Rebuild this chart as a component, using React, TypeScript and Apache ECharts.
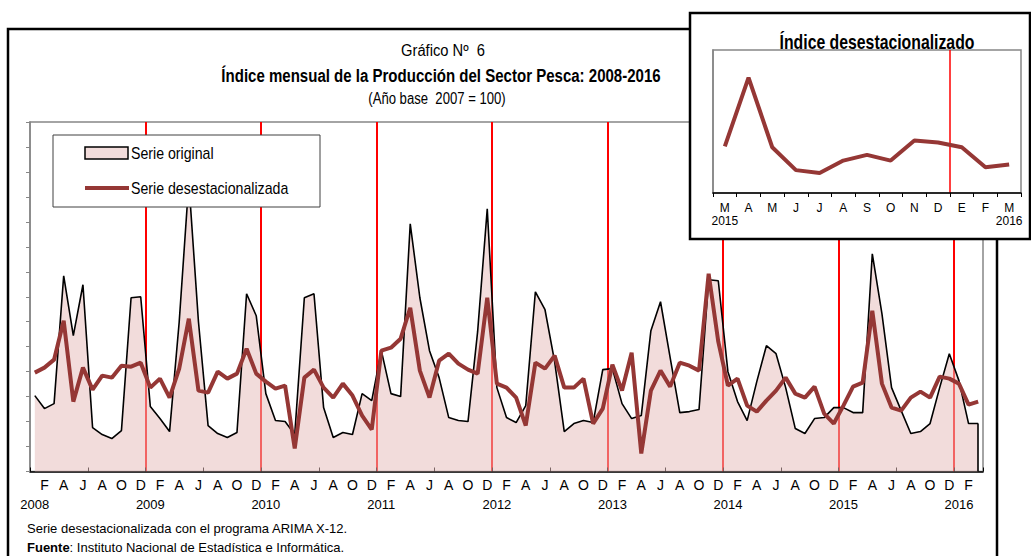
import React, { useEffect, useRef } from "react";
import * as echarts from "echarts";

// Índice mensual, enero 2008 - marzo 2016
const serieOriginal = [
  76, 63, 68, 196, 136, 187, 44, 37, 33, 41, 174, 175, // 2008
  65, 53, 40, 150, 290, 150, 46, 38, 34, 39, 178, 156, // 2009
  78, 51, 50, 37, 174, 178, 64, 34, 39, 37, 78, 71, // 2010
  121, 78, 75, 248, 174, 121, 94, 54, 51, 50, 140, 263, // 2011
  84, 54, 49, 66, 180, 162, 110, 40, 48, 51, 49, 102, // 2012
  103, 68, 53, 56, 141, 170, 114, 59, 60, 62, 192, 191, // 2013
  100, 70, 51, 90, 126, 118, 84, 43, 38, 53, 54, 64, // 2014
  64, 59, 59, 218, 158, 84, 61, 38, 40, 48, 84, 118, // 2015
  91, 48, 48, // 2016
];

const serieDesestacionalizada = [
  99, 104, 112, 151, 70, 104, 82, 96, 94, 106, 105, 109, // 2008
  84, 93, 74, 103, 153, 81, 79, 100, 93, 98, 123, 98, // 2009
  90, 83, 86, 23, 94, 102, 84, 74, 88, 76, 56, 42, // 2010
  121, 124, 133, 164, 101, 74, 111, 118, 108, 102, 98, 174, // 2011
  88, 84, 74, 46, 109, 103, 116, 84, 84, 93, 48, 63, // 2012
  107, 81, 119, 18, 81, 101, 85, 109, 106, 101, 198, 130, // 2013
  86, 93, 66, 60, 71, 81, 94, 78, 74, 85, 58, 48, // 2014
  66, 85, 89, 161, 88, 64, 61, 74, 80, 74, 95, 93, // 2015
  88, 67, 70, // 2016
];

const monthLetters = ["E", "F", "M", "A", "M", "J", "J", "A", "S", "O", "N", "D"];
const startYear = 2008;
const insetStart = 86; // marzo 2015
const yMin = 0;
const yMax = 350;
const yTick = 25;
const insetMin = 40;
const insetMax = 190;

const categories = serieOriginal.map(
  (_, i) => `${startYear + Math.floor(i / 12)}-${String((i % 12) + 1).padStart(2, "0")}`
);
const insetCategories = categories.slice(insetStart);
const insetData = serieDesestacionalizada.slice(insetStart);

const SANS = "'Liberation Sans', Arial, sans-serif";
const DARKRED = "#953735";
const FILL = "rgba(230,189,187,0.53)";
const GRAY = "#868686";

function txt(text: string, x: number, y: number, size: number, opts: any = {}) {
  return {
    type: "text",
    z: opts.z ?? 10,
    x,
    y,
    scaleX: opts.scaleX ?? 1,
    style: {
      text,
      fontFamily: SANS,
      fontSize: size,
      fontWeight: opts.bold ? "bold" : "normal",
      fill: "#000",
      textAlign: opts.align ?? "center",
      textVerticalAlign: "middle",
      rich: opts.rich,
    },
  };
}

export default function App() {
  const ref = useRef<HTMLDivElement>(null);

  useEffect(() => {
    if (!ref.current) return;
    const chart = echarts.init(ref.current, undefined, { renderer: "svg" });
    const lastIdx = serieOriginal.length - 1;

    const option: any = {
      animation: false,
      backgroundColor: "#ffffff",
      grid: [
        {
          left: 30,
          top: 122,
          width: 953,
          height: 349.5,
          show: true,
          borderColor: GRAY,
          borderWidth: 1.5,
        },
        {
          left: 713,
          top: 50,
          width: 308,
          height: 143,
          show: true,
          borderColor: GRAY,
          borderWidth: 1.5,
          z: 60,
        },
      ],
      xAxis: [
        {
          type: "category",
          gridIndex: 0,
          data: categories,
          boundaryGap: true,
          axisLine: { lineStyle: { color: "#000", width: 1.5 } },
          axisTick: {
            show: true,
            inside: true,
            length: 4,
            interval: (i: number) => i % 6 === 0,
            lineStyle: { color: "#000" },
          },
          splitLine: {
            show: true,
            showMaxLine: false,
            interval: (i: number) => i % 12 === 0 && i > 0,
            lineStyle: { color: "#ff0000", width: 2 },
          },
          axisLabel: {
            interval: 0,
            margin: 3,
            fontFamily: SANS,
            fontSize: 14,
            lineHeight: 20,
            color: "#000",
            formatter: (_v: string, i: number) => {
              if (i % 12 === 0) return "{e| }\n{y|" + (startYear + i / 12) + "}";
              if (i % 2 === 1) return monthLetters[i % 12];
              return "";
            },
            rich: {
              e: { fontSize: 14, lineHeight: 20 },
              y: { fontSize: 13, lineHeight: 20, fontFamily: SANS, color: "#000" },
            },
          },
        },
        {
          type: "category",
          gridIndex: 1,
          data: insetCategories,
          boundaryGap: true,
          z: 60,
          axisLine: { lineStyle: { color: "#000", width: 1.5 } },
          axisTick: { show: true, inside: false, length: 4, interval: 0, lineStyle: { color: "#000" } },
          splitLine: {
            show: true,
            showMinLine: false,
            showMaxLine: false,
            interval: (i: number) => i === 0 || (insetStart + i) % 12 === 0,
            lineStyle: { color: "#ff0000", width: 1.5 },
          },
          axisLabel: {
            interval: 0,
            margin: 8,
            fontFamily: SANS,
            fontSize: 12,
            lineHeight: 13,
            color: "#000",
            formatter: (_v: string, i: number) => {
              const idx = insetStart + i;
              const letter = monthLetters[idx % 12];
              if (i === 0 || i === insetCategories.length - 1)
                return letter + "\n" + (startYear + Math.floor(idx / 12));
              return letter;
            },
          },
        },
      ],
      yAxis: [
        {
          type: "value",
          gridIndex: 0,
          min: yMin,
          max: yMax,
          interval: yTick,
          axisLine: { show: true, lineStyle: { color: GRAY, width: 1.5 } },
          axisTick: { show: true, inside: false, length: 4, lineStyle: { color: GRAY } },
          axisLabel: { show: false },
          splitLine: { show: false },
        },
        {
          type: "value",
          gridIndex: 1,
          min: insetMin,
          max: insetMax,
          z: 60,
          axisLine: { show: true, lineStyle: { color: GRAY, width: 1.5 } },
          axisTick: { show: false },
          axisLabel: { show: false },
          splitLine: { show: false },
        },
      ],
      series: [
        {
          name: "Serie original",
          type: "line",
          xAxisIndex: 0,
          yAxisIndex: 0,
          data: serieOriginal,
          symbol: "none",
          lineStyle: { color: "#000", width: 1.6 },
          areaStyle: { color: FILL, opacity: 1 },
          z: 2,
          markLine: {
            silent: true,
            symbol: "none",
            label: { show: false },
            lineStyle: { color: "#000", width: 1.6, type: "solid" },
            data: [
              [
                { coord: [categories[lastIdx], yMin] },
                { coord: [categories[lastIdx], serieOriginal[lastIdx]] },
              ],
            ],
          },
        },
        {
          name: "Serie desestacionalizada",
          type: "line",
          xAxisIndex: 0,
          yAxisIndex: 0,
          data: serieDesestacionalizada,
          symbol: "none",
          lineStyle: { color: DARKRED, width: 4 },
          z: 3,
        },
        {
          name: "Índice desestacionalizado",
          type: "line",
          xAxisIndex: 1,
          yAxisIndex: 1,
          data: insetData,
          symbol: "none",
          lineStyle: { color: DARKRED, width: 4 },
          z: 61,
        },
      ],
      graphic: [
        // main frame
        {
          type: "rect",
          z: 1,
          shape: { x: 8, y: 29, width: 989, height: 545 },
          style: { fill: "none", stroke: "#000", lineWidth: 2.5 },
          silent: true,
        },
        txt("Gráfico Nº  6", 443, 50, 16, { scaleX: 0.92 }),
        txt("Índice mensual de la Producción del Sector Pesca: 2008-2016", 441, 76, 18, {
          bold: true,
          scaleX: 0.835,
        }),
        txt("(Año base  2007 = 100)", 437, 99, 16, { scaleX: 0.82 }),
        // legend
        {
          type: "rect",
          z: 100,
          shape: { x: 53, y: 135, width: 267, height: 72 },
          style: { fill: "#fff", stroke: "#404040", lineWidth: 1 },
        },
        {
          type: "rect",
          z: 101,
          shape: { x: 85, y: 147, width: 43, height: 12 },
          style: { fill: "#f2dcdb", stroke: "#000", lineWidth: 1.5 },
        },
        txt("Serie original", 131, 153, 16, { align: "left", scaleX: 0.885, z: 101 }),
        {
          type: "line",
          z: 101,
          shape: { x1: 85, y1: 188, x2: 129, y2: 188 },
          style: { stroke: DARKRED, lineWidth: 4 },
        },
        txt("Serie desestacionalizada", 131, 188, 16, { align: "left", scaleX: 0.885, z: 101 }),
        // footnotes
        txt("Serie desestacionalizada con el programa ARIMA X-12.", 27, 528, 13, { align: "left" }),
        txt("{b|Fuente}: Instituto Nacional de Estadística e Informática.", 27, 547, 13, {
          align: "left",
          rich: { b: { fontFamily: SANS, fontSize: 13, fontWeight: "bold", fill: "#000" } },
        }),
        // inset box
        {
          type: "rect",
          z: 50,
          shape: { x: 690, y: 13, width: 340, height: 226 },
          style: { fill: "#fff", stroke: "#000", lineWidth: 2.5 },
        },
        txt("Índice desestacionalizado", 877, 42, 20, { bold: true, scaleX: 0.79, z: 70 }),
      ],
    };

    chart.setOption(option);
    return () => chart.dispose();
  }, []);

  return (
    <div
      ref={ref}
      style={{ position: "fixed", left: 0, top: 0, width: 1031, height: 556, background: "#fff" }}
    />
  );
}
